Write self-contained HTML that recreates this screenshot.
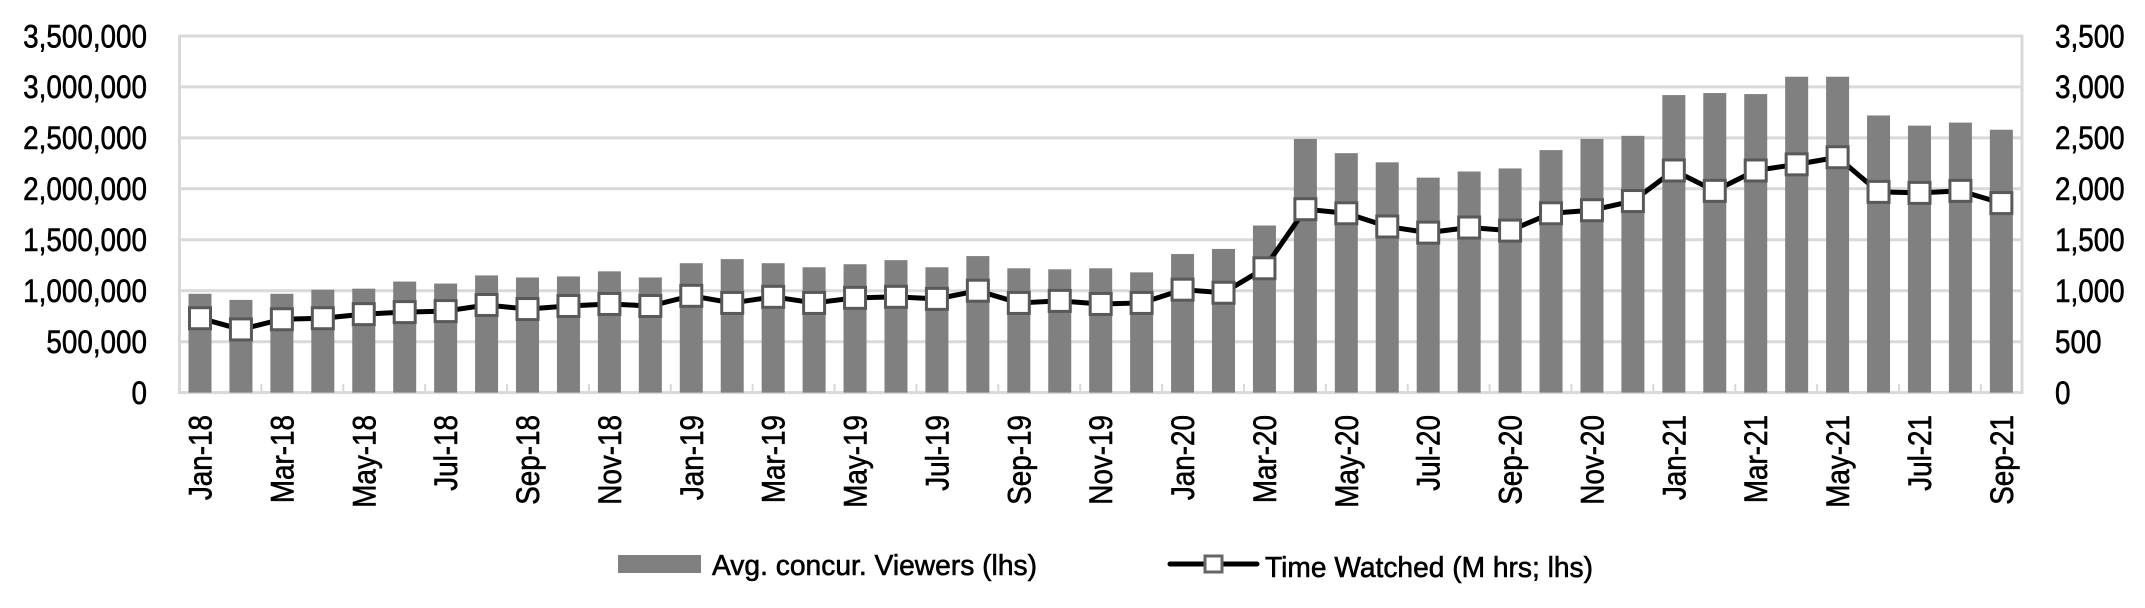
<!DOCTYPE html>
<html><head><meta charset="utf-8"><style>
html,body{margin:0;padding:0;background:#fff;}
svg{display:block;font-family:"Liberation Sans",Arial,sans-serif;}
svg text{stroke:#000;stroke-width:0.6px;}
</style></head><body>
<svg id="c" width="2145" height="608" viewBox="0 0 2145 608" xmlns="http://www.w3.org/2000/svg">
<g stroke="#d9d9d9" stroke-width="3" fill="none">
<line x1="179.5" y1="341.7" x2="2022" y2="341.7"/>
<line x1="179.5" y1="290.7" x2="2022" y2="290.7"/>
<line x1="179.5" y1="239.8" x2="2022" y2="239.8"/>
<line x1="179.5" y1="188.8" x2="2022" y2="188.8"/>
<line x1="179.5" y1="137.9" x2="2022" y2="137.9"/>
<line x1="179.5" y1="86.9" x2="2022" y2="86.9"/>
<rect x="179.5" y="36" width="1842.5" height="356.6"/>
</g>
<g id="ticks" stroke="#d9d9d9" stroke-width="2"></g>
<g id="bars" fill="#808080"></g>
<g id="line"></g>
<g font-size="32" fill="#000" text-anchor="end">
<text transform="translate(147,404) scale(0.87,1)">0</text>
<text transform="translate(147,353) scale(0.87,1)">500,000</text>
<text transform="translate(147,302) scale(0.87,1)">1,000,000</text>
<text transform="translate(147,251) scale(0.87,1)">1,500,000</text>
<text transform="translate(147,200) scale(0.87,1)">2,000,000</text>
<text transform="translate(147,149) scale(0.87,1)">2,500,000</text>
<text transform="translate(147,98) scale(0.87,1)">3,000,000</text>
<text transform="translate(147,47.5) scale(0.87,1)">3,500,000</text>
</g>
<g font-size="32" fill="#000" text-anchor="start">
<text transform="translate(2055,404) scale(0.87,1)">0</text>
<text transform="translate(2055,353) scale(0.87,1)">500</text>
<text transform="translate(2055,302) scale(0.87,1)">1,000</text>
<text transform="translate(2055,251) scale(0.87,1)">1,500</text>
<text transform="translate(2055,200) scale(0.87,1)">2,000</text>
<text transform="translate(2055,149) scale(0.87,1)">2,500</text>
<text transform="translate(2055,98) scale(0.87,1)">3,000</text>
<text transform="translate(2055,47.5) scale(0.87,1)">3,500</text>
</g>
<g font-size="32" fill="#000" text-anchor="end">
<text transform="translate(211.5,415) rotate(-90) scale(0.87,1)">Jan-18</text>
<text transform="translate(293.4,415) rotate(-90) scale(0.87,1)">Mar-18</text>
<text transform="translate(375.3,415) rotate(-90) scale(0.87,1)">May-18</text>
<text transform="translate(457.1,415) rotate(-90) scale(0.87,1)">Jul-18</text>
<text transform="translate(539,415) rotate(-90) scale(0.87,1)">Sep-18</text>
<text transform="translate(620.9,415) rotate(-90) scale(0.87,1)">Nov-18</text>
<text transform="translate(702.8,415) rotate(-90) scale(0.87,1)">Jan-19</text>
<text transform="translate(784.7,415) rotate(-90) scale(0.87,1)">Mar-19</text>
<text transform="translate(866.5,415) rotate(-90) scale(0.87,1)">May-19</text>
<text transform="translate(948.4,415) rotate(-90) scale(0.87,1)">Jul-19</text>
<text transform="translate(1030.3,415) rotate(-90) scale(0.87,1)">Sep-19</text>
<text transform="translate(1112.2,415) rotate(-90) scale(0.87,1)">Nov-19</text>
<text transform="translate(1194.1,415) rotate(-90) scale(0.87,1)">Jan-20</text>
<text transform="translate(1275.9,415) rotate(-90) scale(0.87,1)">Mar-20</text>
<text transform="translate(1357.8,415) rotate(-90) scale(0.87,1)">May-20</text>
<text transform="translate(1439.7,415) rotate(-90) scale(0.87,1)">Jul-20</text>
<text transform="translate(1521.6,415) rotate(-90) scale(0.87,1)">Sep-20</text>
<text transform="translate(1603.5,415) rotate(-90) scale(0.87,1)">Nov-20</text>
<text transform="translate(1685.3,415) rotate(-90) scale(0.87,1)">Jan-21</text>
<text transform="translate(1767.2,415) rotate(-90) scale(0.87,1)">Mar-21</text>
<text transform="translate(1849.1,415) rotate(-90) scale(0.87,1)">May-21</text>
<text transform="translate(1931,415) rotate(-90) scale(0.87,1)">Jul-21</text>
<text transform="translate(2012.9,415) rotate(-90) scale(0.87,1)">Sep-21</text>
</g>
<rect x="618" y="555" width="83" height="18" fill="#808080"/>
<text x="712" y="575" font-size="29" textLength="325" lengthAdjust="spacingAndGlyphs">Avg. concur. Viewers (lhs)</text>
<line x1="1170" y1="564" x2="1257" y2="564" stroke="#000" stroke-width="5" stroke-linecap="round"/>
<rect x="1205" y="556" width="17" height="16" fill="#fff" stroke="#666" stroke-width="3"/>
<text x="1265" y="577" font-size="29" textLength="328" lengthAdjust="spacingAndGlyphs">Time Watched (M hrs; lhs)</text>
</svg>
<script>
var bars=[970,910,970,1010,1020,1090,1070,1150,1130,1140,1190,1130,1270,1310,1270,1230,1260,1300,1230,1340,1220,1210,1220,1180,1360,1410,1640,2490,2350,2260,2110,2170,2200,2380,2490,2520,2920,2940,2930,3100,3100,2720,2620,2650,2580];
var line=[730,620,720,730,770,790,800,860,820,850,870,850,950,880,940,880,930,940,920,1000,880,900,870,880,1010,980,1220,1800,1760,1630,1570,1620,1590,1760,1790,1880,2180,1980,2180,2240,2310,1970,1960,1980,1860];
var NS="http://www.w3.org/2000/svg";
function el(t,a,p){var e=document.createElementNS(NS,t);for(var k in a)e.setAttribute(k,a[k]);p.appendChild(e);return e;}
function Y(v){return 392.6-v*0.10189;}
function X(i){return 200+40.94*i;}
var tg=document.getElementById('ticks');
for(var k=1;k<23;k++){var x=179.5+81.88*k;el('line',{x1:x,y1:384,x2:x,y2:393},tg);}
var bg=document.getElementById('bars');
bars.forEach(function(v,i){el('rect',{x:X(i)-11.5,y:Y(v),width:23,height:392.6-Y(v)},bg);});
var lg=document.getElementById('line');
el('polyline',{points:line.map(function(v,i){return X(i)+','+Y(v);}).join(' '),fill:'none',stroke:'#000','stroke-width':5,'stroke-linejoin':'round'},lg);
line.forEach(function(v,i){el('rect',{x:X(i)-10.5,y:Y(v)-10.5,width:21,height:21,fill:'#fff',stroke:'#595959','stroke-width':3},lg);});
</script>
</body></html>
